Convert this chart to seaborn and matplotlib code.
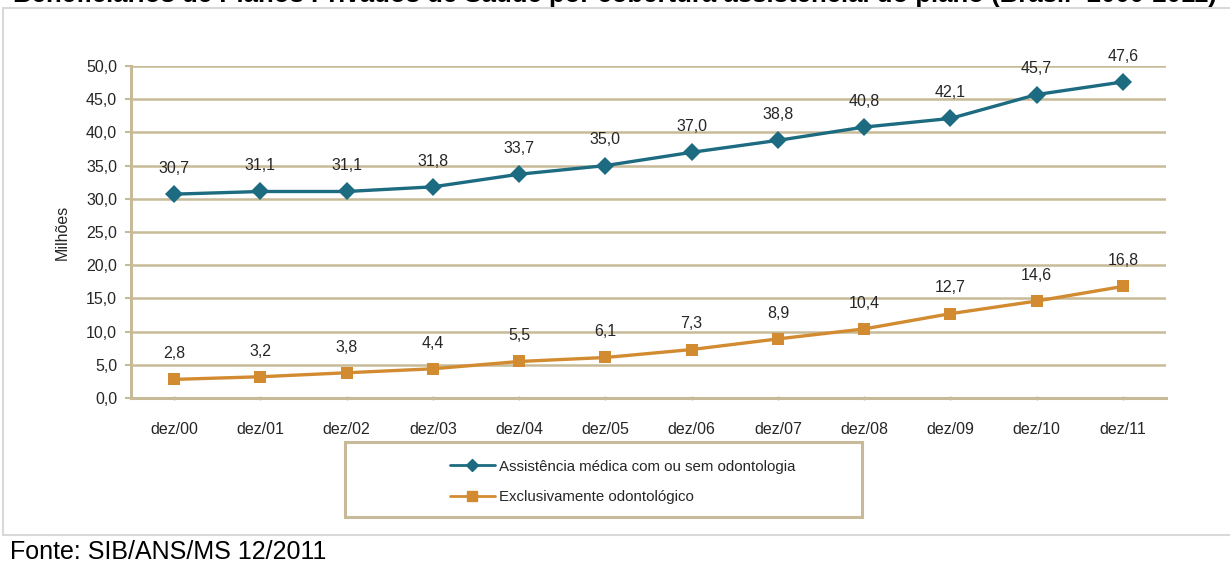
import matplotlib
matplotlib.use("Agg")
import matplotlib.pyplot as plt
from matplotlib.patches import Rectangle
from matplotlib.lines import Line2D
import seaborn as sns
import pandas as pd

periodos = ["dez/00", "dez/01", "dez/02", "dez/03", "dez/04", "dez/05",
            "dez/06", "dez/07", "dez/08", "dez/09", "dez/10", "dez/11"]
medica = [30.7, 31.1, 31.1, 31.8, 33.7, 35.0, 37.0, 38.8, 40.8, 42.1, 45.7, 47.6]
odonto = [2.8, 3.2, 3.8, 4.4, 5.5, 6.1, 7.3, 8.9, 10.4, 12.7, 14.6, 16.8]
serie_med = "Assistência médica com ou sem odontologia"
serie_odo = "Exclusivamente odontológico"
y_ticks = [0, 5, 10, 15, 20, 25, 30, 35, 40, 45, 50]

cor_med = "#1C6B80"
cor_odo = "#D28B30"
cor_grade = "#C6BA98"
cor_texto = "#262626"

df = pd.DataFrame({
    "periodo": periodos * 2,
    "valor": medica + odonto,
    "serie": [serie_med] * len(periodos) + [serie_odo] * len(periodos),
})

sns.set_style("white")
plt.rcParams["font.family"] = ["Liberation Sans", "DejaVu Sans"]

W, H = 1230, 564
fig = plt.figure(figsize=(W / 100, H / 100), dpi=100)
ax = fig.add_axes([131 / W, 1 - 398 / H, (1166 - 131) / W, (398 - 66) / H])

sns.lineplot(data=df, x="periodo", y="valor", hue="serie", style="serie",
             palette={serie_med: cor_med, serie_odo: cor_odo},
             markers={serie_med: "D", serie_odo: "s"}, dashes=False,
             markersize=9, linewidth=2.4, markeredgewidth=0, ax=ax,
             legend=False, zorder=3)

# rótulos de dados
for vals in (medica, odonto):
    for i, v in enumerate(vals):
        ax.annotate(f"{v:.1f}".replace(".", ","), (i, v), xytext=(0, 18.5),
                    textcoords="offset points", ha="center", va="center",
                    fontsize=11.5, color=cor_texto)

ax.set_xlim(-0.5, len(periodos) - 0.5)
ax.set_ylim(0, 50)
ax.set_yticks(y_ticks)
ax.set_yticklabels([f"{t:.1f}".replace(".", ",") for t in y_ticks])
ax.set_xticks(range(len(periodos)))
ax.set_xticklabels(periodos)
ax.yaxis.grid(True, color=cor_grade, linewidth=1.8)
ax.set_axisbelow(True)
for s in ["top", "right"]:
    ax.spines[s].set_visible(False)
for s in ["left", "bottom"]:
    ax.spines[s].set_color(cor_grade)
    ax.spines[s].set_linewidth(2.2)
ax.tick_params(axis="y", length=4, width=1.5, color=cor_grade, pad=6,
               labelsize=11.5, labelcolor=cor_texto, left=True)
ax.tick_params(axis="x", length=3, width=1, color=cor_grade, direction="inout",
               pad=16, labelsize=11.5, labelcolor=cor_texto, bottom=True)
ax.set_xlabel("")
ax.set_ylabel("Milhões", fontsize=11.5, color=cor_texto, labelpad=12)

# legenda com moldura
fig.add_artist(Rectangle((345 / W, 1 - 517 / H), (862 - 345) / W, (517 - 442) / H,
                         transform=fig.transFigure, fill=False,
                         edgecolor=cor_grade, linewidth=2.2))
handles = [Line2D([], [], color=cor_med, marker="D", markersize=6, linewidth=2),
           Line2D([], [], color=cor_odo, marker="s", markersize=7, linewidth=2)]
fig.legend(handles, [serie_med, serie_odo], loc="upper left",
           bbox_to_anchor=(436 / W, 1 - 446 / H), frameon=False,
           fontsize=10.8, handlelength=3.0, handletextpad=0.3, labelspacing=1.1,
           labelcolor=cor_texto)

# moldura clara da planilha
cinza = "#D9D9D9"
fig.add_artist(Line2D([3 / W, 1], [1 - 8 / H, 1 - 8 / H], transform=fig.transFigure,
                      color=cinza, linewidth=1.5))
fig.add_artist(Line2D([3 / W, 3 / W], [1 - 8 / H, 1 - 535 / H], transform=fig.transFigure,
                      color=cinza, linewidth=1.5))
fig.add_artist(Line2D([3 / W, 1], [1 - 535 / H, 1 - 535 / H], transform=fig.transFigure,
                      color=cinza, linewidth=1.5))

fig.text(0.5, 1 - 2 / H,
         "Beneficiários de Planos Privados de Saúde por cobertura assistencial do plano (Brasil- 2000-2011)",
         ha="center", va="baseline", fontsize=18.5, fontweight="bold", color="black")
fig.text(10 / W, 1 - 559 / H, "Fonte: SIB/ANS/MS 12/2011", ha="left", va="baseline",
         fontsize=18, color="black")

fig.savefig("out.png", dpi=100)
